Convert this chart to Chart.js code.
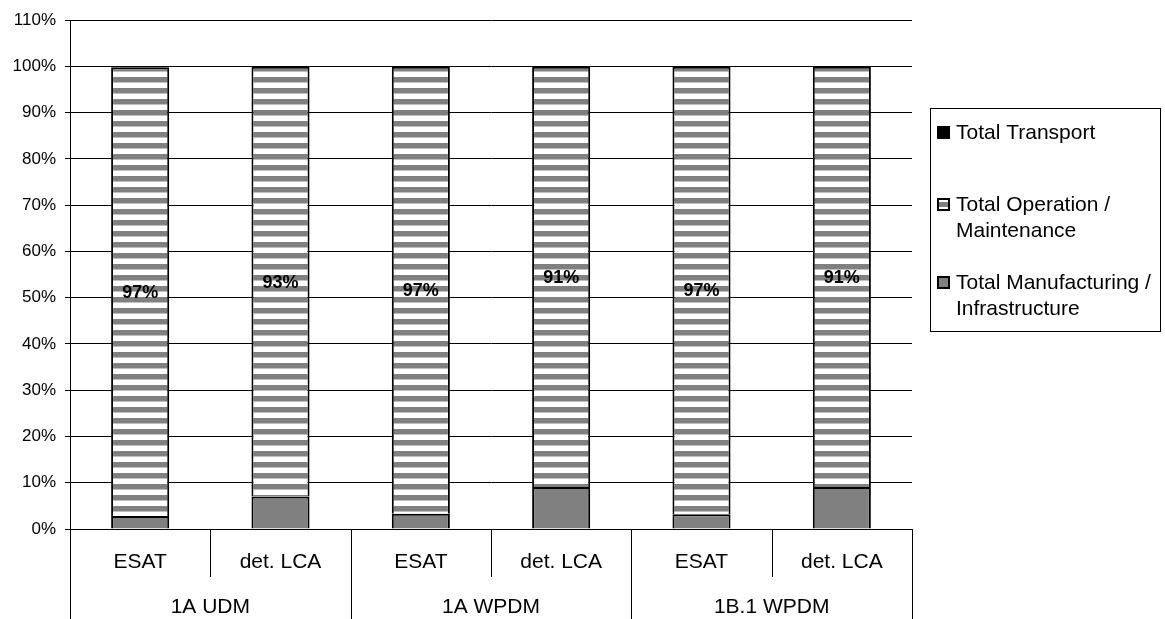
<!DOCTYPE html>
<html>
<head>
<meta charset="utf-8">
<script src="https://cdn.jsdelivr.net/npm/chart.js@4.4.1/dist/chart.umd.min.js"></script>
<style>
  html, body { margin: 0; padding: 0; background: #fff; }
  #wrap { width: 1165px; height: 619px; position: relative; }
</style>
</head>
<body>
<div id="wrap"><canvas id="c" width="1165" height="619"></canvas></div>
<script>
// Sub-categories (methods) and their scenario groups
const methods = ['ESAT', 'det. LCA', 'ESAT', 'det. LCA', 'ESAT', 'det. LCA'];
const groups = ['1A UDM', '1A WPDM', '1B.1 WPDM'];

// Share of total impact per life-cycle phase, in percent
const manufacturing = [2.8, 7.0, 3.3, 9.1, 3.2, 9.1];
const operation = [97.0, 92.9, 96.6, 90.8, 96.7, 90.8];
const transport = [0.2, 0.1, 0.1, 0.1, 0.1, 0.1];

const yTicks = [0, 10, 20, 30, 40, 50, 60, 70, 80, 90, 100, 110];

const seriesNames = ['Total Manufacturing /\nInfrastructure', 'Total Operation /\nMaintenance', 'Total Transport'];

const FONT = '"Liberation Sans", Arial, sans-serif';
const GRAY = '#808080';

// Horizontal stripe fill for the operation/maintenance segment
function stripePattern(ctx) {
  const p = document.createElement('canvas');
  p.width = 8; p.height = 11;
  const pc = p.getContext('2d');
  pc.fillStyle = '#ffffff';
  pc.fillRect(0, 0, 8, 11);
  pc.fillStyle = GRAY;
  pc.fillRect(0, 0, 8, 5.5);
  return ctx.createPattern(p, 'repeat');
}

const canvas = document.getElementById('c');
const ctx = canvas.getContext('2d');
const stripes = stripePattern(ctx);

// Percent labels in the middle of the operation segment
const segmentLabels = {
  id: 'segmentLabels',
  afterDatasetsDraw(chart) {
    const c = chart.ctx;
    const meta = chart.getDatasetMeta(1);
    c.save();
    c.font = 'bold 18px ' + FONT;
    c.fillStyle = '#000';
    c.textAlign = 'center';
    c.textBaseline = 'middle';
    meta.data.forEach((el, i) => {
      const v = chart.data.datasets[1].data[i];
      c.fillText(Math.round(v) + '%', el.x, (el.y + el.base) / 2 + 1);
    });
    c.restore();
  }
};

// Two-level category labels with separators below the plot
const groupAxis = {
  id: 'groupAxis',
  afterDraw(chart) {
    const c = chart.ctx;
    const x = chart.scales.x;
    const area = chart.chartArea;
    const bottom = chart.height;
    const step = x.getPixelForValue(1) - x.getPixelForValue(0);
    c.save();
    c.strokeStyle = '#000';
    c.lineWidth = 1;
    c.fillStyle = '#000';
    c.font = '21px ' + FONT;
    c.textAlign = 'center';
    c.textBaseline = 'middle';
    // left plot edge runs down through the label area
    c.beginPath();
    c.moveTo(Math.round(area.left) + 0.5, area.top);
    c.lineTo(Math.round(area.left) + 0.5, bottom);
    c.stroke();
    methods.forEach((m, i) => {
      const cx = x.getPixelForValue(i);
      c.fillText(m, cx, area.bottom + 33);
      const edge = Math.round(cx + step / 2) + 0.5;
      c.beginPath();
      if (i % 2 === 0) {
        c.moveTo(edge, area.bottom);
        c.lineTo(edge, area.bottom + 48);
      } else {
        c.moveTo(edge, area.bottom);
        c.lineTo(edge, bottom);
      }
      c.stroke();
    });
    groups.forEach((g, k) => {
      const cx = (x.getPixelForValue(2 * k) + x.getPixelForValue(2 * k + 1)) / 2;
      c.fillText(g, cx, area.bottom + 78);
    });
    c.restore();
  }
};

// Boxed legend on the right, top series first
const sideLegend = {
  id: 'sideLegend',
  afterDraw(chart) {
    const c = chart.ctx;
    const bx = 930.5, by = 108.5, bw = 230, bh = 223;
    c.save();
    c.strokeStyle = '#000';
    c.lineWidth = 1;
    c.strokeRect(bx, by, bw, bh);
    c.font = '21px ' + FONT;
    c.textBaseline = 'middle';
    c.textAlign = 'left';
    const rows = [
      { ds: 2, y: 133 },
      { ds: 1, y: 205 },
      { ds: 0, y: 283 }
    ];
    rows.forEach(r => {
      const lines = chart.data.datasets[r.ds].label.split('\n');
      const mx = 937, my = r.y - 7, ms = 13;
      if (r.ds === 2) {
        c.fillStyle = '#000';
        c.fillRect(mx, my, ms, ms);
      } else if (r.ds === 1) {
        c.fillStyle = '#fff';
        c.fillRect(mx, my, ms, ms);
        c.fillStyle = GRAY;
        c.fillRect(mx, my + 4, ms, 5);
        c.strokeStyle = '#000';
        c.lineWidth = 2;
        c.strokeRect(mx + 1, my + 1, ms - 2, ms - 2);
      } else {
        c.fillStyle = GRAY;
        c.fillRect(mx, my, ms, ms);
        c.strokeStyle = '#000';
        c.lineWidth = 2;
        c.strokeRect(mx + 1, my + 1, ms - 2, ms - 2);
      }
      c.fillStyle = '#000';
      lines.forEach((t, j) => c.fillText(t, 956, r.y + j * 26));
    });
    c.restore();
  }
};

new Chart(ctx, {
  type: 'bar',
  data: {
    labels: methods,
    datasets: [
      { label: seriesNames[0], data: manufacturing, backgroundColor: GRAY, borderColor: '#000', borderWidth: 2 },
      { label: seriesNames[1], data: operation, backgroundColor: stripes, borderColor: '#000', borderWidth: 2 },
      { label: seriesNames[2], data: transport, backgroundColor: '#000', borderColor: '#000', borderWidth: 1 }
    ]
  },
  options: {
    responsive: false,
    animation: false,
    devicePixelRatio: 1,
    layout: { padding: { top: 20, right: 253, bottom: 90, left: 0 } },
    datasets: { bar: { barPercentage: 0.414, categoryPercentage: 1 } },
    plugins: {
      legend: { display: false },
      tooltip: { enabled: false }
    },
    scales: {
      x: {
        stacked: true,
        display: true,
        grid: { display: false, drawTicks: false },
        border: { display: true, color: '#000', width: 1 },
        ticks: { display: false }
      },
      y: {
        stacked: true,
        min: 0,
        max: 110,
        afterBuildTicks(axis) { axis.ticks = yTicks.map(v => ({ value: v })); },
        afterFit(axis) { axis.width = 70; },
        grid: { color: '#000', lineWidth: 1, tickLength: 5, drawTicks: true },
        border: { display: true, color: '#000', width: 1 },
        ticks: {
          color: '#000',
          font: { family: FONT, size: 17 },
          padding: 9,
          callback: v => v + '%'
        }
      }
    }
  },
  plugins: [segmentLabels, groupAxis, sideLegend]
});
</script>
</body>
</html>
